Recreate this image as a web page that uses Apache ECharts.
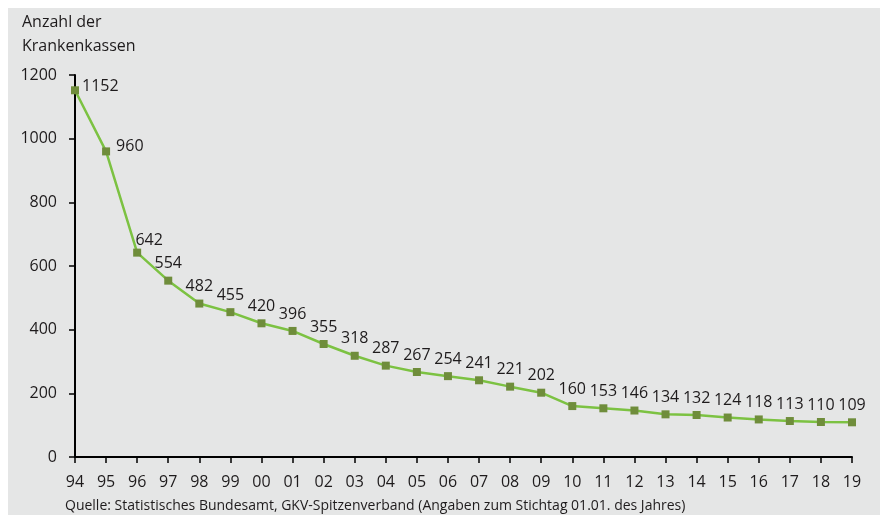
<!DOCTYPE html>
<html>
<head>
<meta charset="utf-8">
<script src="https://cdn.jsdelivr.net/npm/echarts@6/dist/echarts.min.js"></script>
<style>
  html, body { margin: 0; padding: 0; background: #ffffff; }
  #chart { width: 880px; height: 515px; }
</style>
</head>
<body>
<div id="chart"></div>
<script>
// Anzahl der Krankenkassen (GKV), jeweils zum 01.01.
const years = ['94','95','96','97','98','99','00','01','02','03','04','05','06','07','08','09','10','11','12','13','14','15','16','17','18','19'];
const kassen = [1152, 960, 642, 554, 482, 455, 420, 396, 355, 318, 287, 267, 254, 241, 221, 202, 160, 153, 146, 134, 132, 124, 118, 113, 110, 109];
const yTicks = [0, 200, 400, 600, 800, 1000, 1200];

const FONT = '"Open Sans", "DejaVu Sans", sans-serif';
const TEXT = '#1e1b1c';

// label placement: most labels sit above the point, the steep start gets labels to the side
const seriesData = kassen.map((v, i) => {
  const item = { value: v };
  if (i === 0) item.label = { position: 'right', distance: 3, offset: [0, -4] };
  if (i === 1) item.label = { position: 'right', distance: 6, offset: [0, -5] };
  if (i === 2) item.label = { offset: [12, 5] };
  return item;
});

const chart = echarts.init(document.getElementById('chart'), null, { renderer: 'canvas' });
chart.setOption({
  animation: false,
  backgroundColor: 'transparent',
  graphic: [
    { type: 'rect', z: -10, shape: { x: 8, y: 8, width: 872, height: 507 }, style: { fill: '#e5e6e6' } },
    { type: 'text', left: 22, top: 14, style: { text: 'Anzahl der', font: '16px ' + FONT, fill: TEXT } },
    { type: 'text', left: 22, top: 38, style: { text: 'Krankenkassen', font: '16px ' + FONT, fill: TEXT } },
    { type: 'text', left: 65, top: 499, style: { text: 'Quelle: Statistisches Bundesamt, GKV-Spitzenverband (Angaben zum Stichtag 01.01. des Jahres)', font: '14px ' + FONT, fill: TEXT } }
  ],
  grid: { left: 75, right: 28, top: 75, bottom: 58, containLabel: false },
  xAxis: {
    type: 'category',
    data: years,
    boundaryGap: false,
    axisLine: { lineStyle: { color: '#000', width: 2 } },
    axisTick: { show: true, length: 6, lineStyle: { color: '#000', width: 1.5 } },
    axisLabel: { color: TEXT, fontSize: 16, fontFamily: FONT, margin: 17 },
    splitLine: { show: false }
  },
  yAxis: {
    type: 'value',
    min: yTicks[0],
    max: yTicks[yTicks.length - 1],
    interval: yTicks[1] - yTicks[0],
    axisLine: { show: true, lineStyle: { color: '#000', width: 2 } },
    axisTick: { show: true, length: 6, lineStyle: { color: '#000', width: 1.5 } },
    axisLabel: { color: TEXT, fontSize: 16, fontFamily: FONT, margin: 18, formatter: v => String(v) },
    splitLine: { show: false }
  },
  series: [{
    type: 'line',
    data: seriesData,
    symbol: 'rect',
    symbolSize: 8,
    lineStyle: { color: '#7cc242', width: 2.5 },
    itemStyle: { color: '#6f8d3b' },
    label: {
      show: true,
      position: 'top',
      distance: 5,
      color: TEXT,
      fontSize: 16,
      fontFamily: FONT
    }
  }]
});
</script>
</body>
</html>
